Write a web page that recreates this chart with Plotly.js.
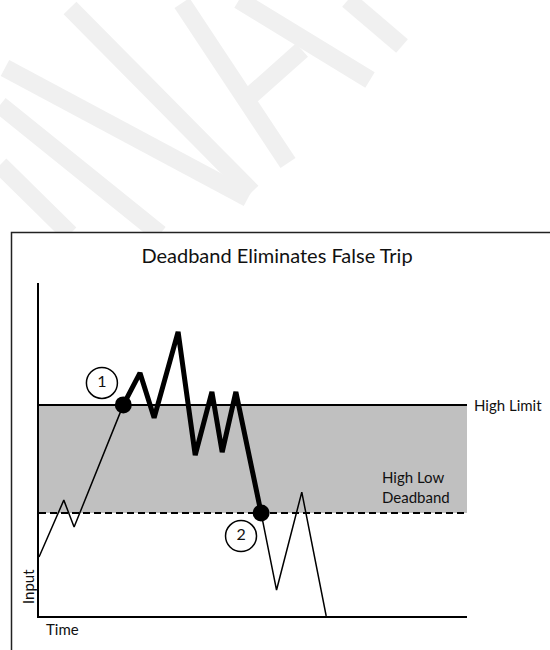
<!DOCTYPE html>
<html>
<head>
<meta charset="utf-8">
<script src="https://cdn.plot.ly/plotly-3.0.1.min.js"></script>
<style>html,body{margin:0;padding:0;background:#fff;}#chart{width:550px;height:650px;}</style>
</head>
<body>
<div id="chart"></div>
<script>
// ---- data (Time / Input units, axes run 0..100) ----
var riseTime   = [0, 5.8, 8.2, 19.7];
var riseInput  = [17.7, 34.8, 26.7, 63.4];
var tripTime   = [19.7, 23.6, 26.9, 32.5, 36.5, 40.4, 42.8, 46.0, 51.9];
var tripInput  = [63.4, 73.0, 59.5, 85.3, 48.3, 67.3, 49.2, 67.3, 30.9];
var fallTime   = [51.9, 55.5, 61.4, 67.1];
var fallInput  = [30.9, 7.8, 37.2, 0];
var highLimit  = 63.4;
var deadbandLow = 30.9;
var eventTime  = [19.7, 51.9];
var eventInput = [63.4, 30.9];
var eventLabels = ["1", "2"];
var labelTime  = [14.7, 47.2];
var labelInput = [70.0, 24.0];

var FONT = "Lato, 'Open Sans', sans-serif";
var TXT = '#111';

// pixel -> paper helpers for layout placement (plot area 39..467 x, 283..616 y)
var L = 39, R = 467, T = 283, B = 616;
function pxX(x){ return (x - L) / (R - L); }
function pxY(y){ return (B - y) / (B - T); }

var traces = [
  {x: riseTime, y: riseInput, mode: 'lines', line: {color: '#000', width: 1.5}, hoverinfo: 'skip'},
  {x: fallTime, y: fallInput, mode: 'lines', line: {color: '#000', width: 1.5}, hoverinfo: 'skip'},
  {x: tripTime, y: tripInput, mode: 'lines', line: {color: '#000', width: 5}, hoverinfo: 'skip'},
  {x: eventTime, y: eventInput, mode: 'markers', marker: {color: '#000', size: 17}, hoverinfo: 'skip'},
  {x: labelTime, y: labelInput, mode: 'markers+text', text: eventLabels, textposition: 'middle center',
   textfont: {family: FONT, size: 16, color: TXT},
   marker: {color: '#fff', size: 31, line: {color: '#000', width: 1.5}}, hoverinfo: 'skip'}
];

// watermark strokes (pixel coords)
var wm = [
  [70, 8, 252, 192], [5, 68, 248, 198], [0, 105, 160, 234], [0, 165, 70, 234],
  [182, 3, 288, 163], [239, 0, 370, 80], [302, 50, 248, 98], [348, 0, 402, 46]
];
var shapes = [];
wm.forEach(function(s){
  shapes.push({type: 'line', xref: 'paper', yref: 'paper', x0: pxX(s[0]), y0: pxY(s[1]), x1: pxX(s[2]), y1: pxY(s[3]),
    line: {color: '#f0f0f0', width: 18}, layer: 'below'});
});
// frame box
shapes.push({type: 'rect', xref: 'paper', yref: 'paper', x0: pxX(11.5), y0: pxY(232.5), x1: pxX(560), y1: pxY(660),
  fillcolor: '#fff', line: {color: '#222', width: 1.5}, layer: 'below'});
// deadband band
shapes.push({type: 'rect', xref: 'paper', yref: 'y', x0: 0, x1: 1, y0: deadbandLow, y1: highLimit,
  fillcolor: '#c0c0c0', line: {width: 0}, layer: 'below'});
shapes.push({type: 'line', xref: 'paper', yref: 'y', x0: 0, x1: 1, y0: highLimit, y1: highLimit,
  line: {color: '#000', width: 2}, layer: 'below'});
shapes.push({type: 'line', xref: 'paper', yref: 'y', x0: 0, x1: 1, y0: deadbandLow, y1: deadbandLow,
  line: {color: '#000', width: 2, dash: '7px,4px'}, layer: 'below'});

var annotations = [
  {text: 'High Limit', xref: 'paper', yref: 'y', x: pxX(472), y: highLimit, xanchor: 'left', yanchor: 'middle',
   showarrow: false, font: {family: FONT, size: 15, color: TXT}},
  {text: 'High Low<br>Deadband', xref: 'paper', yref: 'y', x: pxX(380), y: 38.6, xanchor: 'left', yanchor: 'middle',
   align: 'left', showarrow: false, font: {family: FONT, size: 15, color: TXT}},
  {text: 'Input', xref: 'paper', yref: 'paper', x: pxX(28), y: pxY(587), textangle: -90, xanchor: 'center', yanchor: 'middle',
   showarrow: false, font: {family: FONT, size: 15, color: TXT}},
  {text: 'Time', xref: 'paper', yref: 'paper', x: pxX(62), y: pxY(629), xanchor: 'center', yanchor: 'middle',
   showarrow: false, font: {family: FONT, size: 15, color: TXT}}
];

var layout = {
  width: 550, height: 650,
  margin: {l: L, r: 550 - R, t: T, b: 650 - B, pad: 0},
  paper_bgcolor: '#fff', plot_bgcolor: 'rgba(0,0,0,0)',
  showlegend: false,
  title: {text: 'Deadband Eliminates False Trip', xref: 'paper', x: pxX(277), xanchor: 'center',
          yref: 'container', y: 1 - 256/650, yanchor: 'middle', font: {family: FONT, size: 20, color: TXT}},
  xaxis: {range: [0, 100], showgrid: false, zeroline: false, showticklabels: false, ticks: '',
          showline: true, linecolor: '#000', linewidth: 2, fixedrange: true},
  yaxis: {range: [0, 100], showgrid: false, zeroline: false, showticklabels: false, ticks: '',
          showline: true, linecolor: '#000', linewidth: 2, fixedrange: true},
  shapes: shapes,
  annotations: annotations
};

Plotly.newPlot('chart', traces, layout, {displayModeBar: false, staticPlot: true});
</script>
</body>
</html>
